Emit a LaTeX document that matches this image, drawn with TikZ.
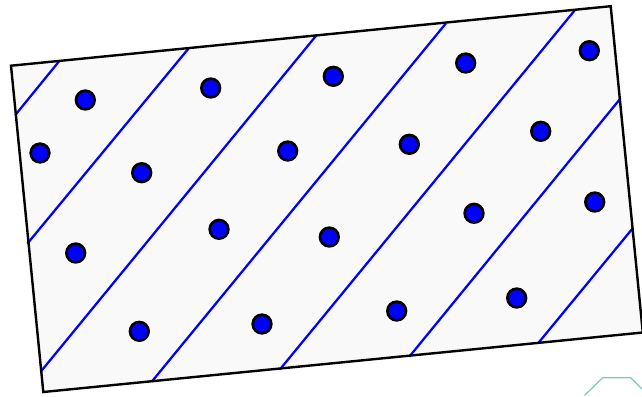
\documentclass[tikz,border=0pt]{standalone}
\usepackage{tikz}
\usetikzlibrary{positioning}
\definecolor{paper}{RGB}{249,249,249}
\definecolor{aqua}{RGB}{122,200,190}

\begin{document}
\begin{tikzpicture}[
  x=0.75pt, y=-0.75pt,
  frame/.style={draw=black, line width=1.8pt, line join=miter},
  stripe/.style={draw=blue, line width=1.7pt},
  dot/.style={circle, draw=black, fill=blue, line width=2pt, minimum size=14pt, inner sep=0pt}
]
\useasboundingbox (0,0) rectangle (642,396);

% 長方形（傾いた枠）
\coordinate (TL) at (11,65.7);
\coordinate (TR) at (610.7,6.2);
\coordinate (BR) at (642.8,332.5);
\coordinate (BL) at (43.3,392);
\fill[paper] (TL) -- (TR) -- (BR) -- (BL) -- cycle;

% 斜めの線
\draw[stripe] (15.3,115) -- (59.3,61);
\draw[stripe] (27.3,243.7) -- (188.7,48.3);
\draw[stripe] (40.7,371.7) -- (316.7,35);
\draw[stripe] (151.7,381.7) -- (446,23.3);
\draw[stripe] (280,369.3) -- (575,10);
\draw[stripe] (409.3,356.7) -- (620,99);
\draw[stripe] (538.3,343) -- (632.7,228.3);

\draw[frame] (TL) -- (TR) -- (BR) -- (BL) -- cycle;

% 点
\node[dot] (d1) at (85.3,100) {};
\node[dot] (d2) at (210.7,88) {};
\node[dot] (d3) at (333.3,76.3) {};
\node[dot] (d4) at (465.7,63) {};
\node[dot] (d5) at (589.3,50.7) {};
\node[dot] (d6) at (40,153) {};
\node[dot] (d7) at (141.7,172.7) {};
\node[dot] (d8) at (287.7,151) {};
\node[dot] (d9) at (409.3,144.3) {};
\node[dot] (d10) at (540.7,131.3) {};
\node[dot] (d11) at (75.7,253) {};
\node[dot] (d12) at (219,229.3) {};
\node[dot] (d13) at (329.3,237) {};
\node[dot] (d14) at (474,213.3) {};
\node[dot] (d15) at (594.7,202) {};
\node[dot] (d16) at (139.3,331.3) {};
\node[dot] (d17) at (262,324) {};
\node[dot] (d18) at (396.7,311) {};
\node[dot] (d19) at (516.7,298) {};

% 右下の切れた図形
\draw[aqua, line width=0.9pt] (584.5,395.5) -- (602.7,377.7) -- (630.7,377.7) -- (648,395);

\end{tikzpicture}
\end{document}
